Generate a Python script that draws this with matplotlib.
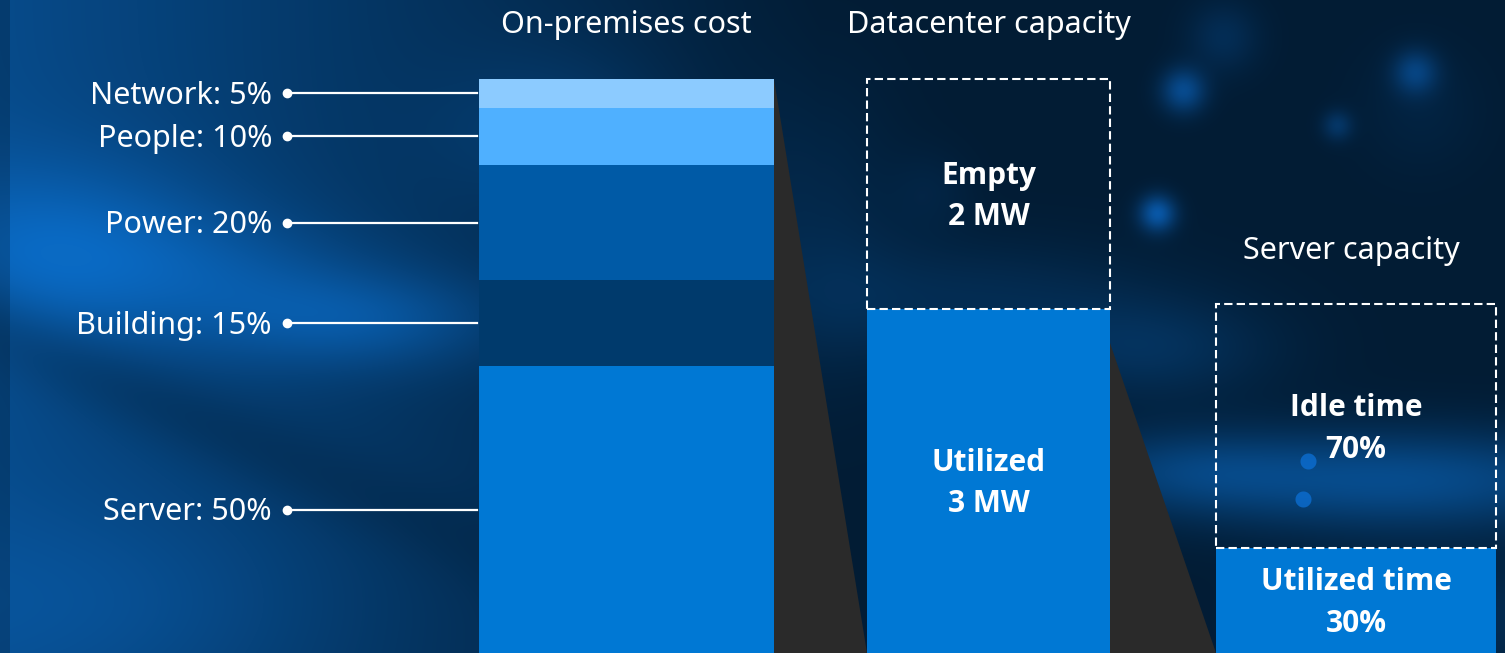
import numpy as np
import matplotlib
matplotlib.use("Agg")
import matplotlib.pyplot as plt
from matplotlib.patches import Polygon

plt.rcParams['font.family'] = ['Noto Sans', 'DejaVu Sans']
BOLD_FAMILY = ['Open Sans', 'DejaVu Sans']

# on-premises cost breakdown, bottom to top [%]
cost_labels = ["Server", "Building", "Power", "People", "Network"]
cost_pct = [50, 15, 20, 10, 5]
cost_colors = ["#0078d4", "#003a6c", "#005aa6", "#4fb0ff", "#8ccbff"]

# datacenter capacity [MW], bottom to top
dc_labels = ["Utilized", "Empty"]
dc_mw = [3, 2]

# server capacity [% of time], bottom to top
srv_labels = ["Utilized time", "Idle time"]
srv_pct = [30, 70]

W, H = 1505, 653
PX = 5.74          # pixels per percent of the cost bar
SRV_SCALE = 0.608  # server bar drawn smaller than the others
BLUE = "#0078d4"
WEDGE = "#2a2a2a"

fig = plt.figure(figsize=(W/100, H/100), dpi=100)
ax = fig.add_axes([0, 0, 1, 1])
ax.set_xlim(0, W)
ax.set_ylim(0, H/PX)
ax.axis('off')


def yu(p):
    # pixel row -> axis units
    return (H - p)/PX


def background():
    yy, xx = np.mgrid[0:H, 0:W].astype(float)
    t = 0.6*np.clip(1 - xx/820, 0, 1)
    blobs = [(60, 250, 160, 90, 0.4), (360, 320, 150, 50, 0.4),
             (230, 270, 150, 60, 0.2), (110, 600, 220, 100, 0.15),
             (1400, 480, 230, 50, 0.6), (1180, 470, 120, 40, 0.3),
             (1150, 350, 120, 50, 0.25), (960, 300, 200, 60, 0.2),
             (820, 230, 80, 150, 0.15), (1460, 620, 150, 60, 0.2),
             (560, 130, 120, 80, 0.2)]
    for cx, cy, sx, sy, a in blobs:
        t += a*np.exp(-((xx - cx)/sx)**2 - ((yy - cy)/sy)**2)
    # darker diagonal streak across the lower left
    d = (yy - 0.45*xx - 330)/45
    t -= 0.2*np.exp(-d**2)*np.clip(1 - xx/700, 0, 1)
    t = np.clip(t, 0, 1)
    dark = np.array([2, 28, 52])/255
    bright = np.array([10, 106, 196])/255
    img = dark + t[..., None]*(bright - dark)
    glow = np.array([12, 112, 214])/255
    # soft bokeh spots
    for cx, cy, r, a in [(1223, 37, 35, 0.2), (1183, 90, 22, 0.55),
                         (1415, 72, 22, 0.45), (1337, 125, 15, 0.3),
                         (1157, 213, 18, 0.7), (1420, 110, 60, 0.08),
                         (930, 190, 40, 0.08)]:
        g = a*np.exp(-((xx - cx)**2 + (yy - cy)**2)/r**2)
        img = img + g[..., None]*(glow - img)
    # two sharper dots
    for cx, cy in [(1308, 461), (1303, 499)]:
        d = np.sqrt((xx - cx)**2 + (yy - cy)**2)
        g = 0.75*np.clip(8.5 - d, 0, 1)
        img = img + g[..., None]*(glow - img)
    img[:, :10] *= 0.8
    return np.clip(img, 0, 1)


ax.imshow(background(), extent=[0, W, 0, H/PX], aspect='auto',
          origin='upper', zorder=0, interpolation='bilinear')


def text(x, y, s, size, weight='normal', ha='center'):
    # y is the middle of the capital letters
    fam = BOLD_FAMILY if weight == 'bold' else None
    ax.annotate(s, (x, y), xytext=(0, -size*0.357), textcoords='offset points',
                ha=ha, va='baseline', fontsize=size, fontweight=weight,
                family=fam, color='white', zorder=5)


# bar geometry (pixels)
x1, w1 = 626.5, 295
x2, w2 = 988.5, 243
x3, w3 = 1356, 280

# on-premises cost stacked bar
bottoms = np.concatenate([[0], np.cumsum(cost_pct)[:-1]])
ax.bar(x1, cost_pct, width=w1, bottom=bottoms, color=cost_colors,
       linewidth=0, zorder=2)
for lab, p, b in zip(cost_labels, cost_pct, bottoms):
    yc = b + p/2
    ax.plot([287, x1 - w1/2 - 2], [yc, yc], color='white', lw=1.6, zorder=3)
    ax.plot([287], [yc], 'o', color='white', ms=6, zorder=3)
    text(272, yc, "%s: %d%%" % (lab, p), 22, ha='right')

# datacenter capacity
dc_u = np.array(dc_mw)/sum(dc_mw)*100
ax.bar(x2, dc_u[0], width=w2, color=BLUE, linewidth=0, zorder=2)
ax.bar(x2, dc_u[1], width=w2, bottom=dc_u[0], fill=False, edgecolor='white',
       linewidth=1.5, linestyle=(0, (4, 2)), zorder=3)
for lab, v, u, b in zip(dc_labels, dc_mw, dc_u, [0, dc_u[0]]):
    yc = b + u/2
    text(x2, yc + 3.65, lab, 21.5, 'bold')
    text(x2, yc - 3.65, "%d MW" % v, 21.5, 'bold')

# server capacity
sv_u = np.array(srv_pct)*SRV_SCALE
ax.bar(x3, sv_u[0], width=w3, color=BLUE, linewidth=0, zorder=2)
ax.bar(x3, sv_u[1], width=w3, bottom=sv_u[0], fill=False, edgecolor='white',
       linewidth=1.5, linestyle=(0, (4, 2)), zorder=3)
for lab, v, u, b in zip(srv_labels, srv_pct, sv_u, [0, sv_u[0]]):
    yc = b + u/2
    text(x3, yc + 3.65, lab, 21.5, 'bold')
    text(x3, yc - 3.65, "%d%%" % v, 21.5, 'bold')

# connecting wedges
ax.add_patch(Polygon([(x1 + w1/2, sum(cost_pct)), (x1 + w1/2, 0), (x2 - w2/2, 0)],
                     closed=True, color=WEDGE, lw=0, zorder=1))
ax.add_patch(Polygon([(x2 + w2/2, dc_u[0]*0.9), (x2 + w2/2, 0), (x3 - w3/2, 0)],
                     closed=True, color=WEDGE, lw=0, zorder=1))

# titles
text(x1, yu(22), "On-premises cost", 22)
text(x2, yu(22), "Datacenter capacity", 22)
text(1351, yu(248), "Server capacity", 22)

fig.savefig("out.png", dpi=100)
